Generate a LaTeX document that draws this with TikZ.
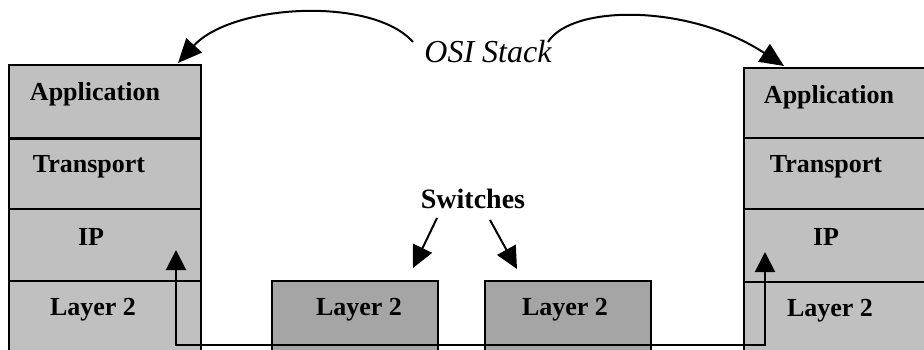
\documentclass[tikz,border=0pt]{standalone}
\usepackage{fontspec}
\setmainfont{Liberation Serif}
\usetikzlibrary{arrows.meta}
\definecolor{stackgray}{RGB}{192,192,192}
\definecolor{switchgray}{RGB}{165,165,165}
\tikzset{
  stackrow/.style={draw=black, line width=1.6pt, fill=stackgray, minimum width=192pt, anchor=north west, inner sep=0pt},
  switchbox/.style={draw=black, line width=1.6pt, fill=switchgray, minimum width=166pt, minimum height=80pt, anchor=north west, inner sep=0pt},
  rowtext/.style={font=\fontsize{26}{28}\selectfont\bfseries, anchor=base, inner sep=0pt},
  conn/.style={line width=2pt, draw=black},
  bighead/.style={-{Triangle[length=24pt,width=21pt]}},
  midhead/.style={-{Triangle[length=22pt,width=21pt]}}
}
\begin{document}
\begin{tikzpicture}[x=1pt,y=-1pt]
\useasboundingbox (0,0) rectangle (924,349);
\clip (0,0) rectangle (924,349);
\fill[white] (0,0) rectangle (924,349);

% left stack
\node[stackrow, minimum height=73pt] (la) at (8,64) {};
\node[stackrow, minimum height=71pt] (lt) at (8,137) {};
\node[stackrow, minimum height=72pt] (li) at (8,208) {};
\node[stackrow, minimum height=76pt] (ll) at (8,280) {};
\draw[line width=3pt] (la.south west) -- (la.south east);
\node[rowtext] (lat) at (95,100) {Application};
\node[rowtext] (ltt) at (89,172) {Transport};
\node[rowtext] (lit) at (91,245) {IP};
\node[rowtext] (llt) at (93,315) {Layer 2};

% right stack
\node[stackrow, minimum height=70pt] (ra) at (743,67) {};
\node[stackrow, minimum height=71pt] (rt) at (743,137) {};
\node[stackrow, minimum height=73pt] (ri) at (743,208) {};
\node[stackrow, minimum height=75pt] (rl) at (743,281) {};
\node[rowtext] (rat) at (829,103) {Application};
\node[rowtext] (rtt) at (826,172) {Transport};
\node[rowtext] (rit) at (826,245) {IP};
\node[rowtext] (rlt) at (830,316) {Layer 2};

% switches
\node[switchbox] (s1) at (271,280) {};
\node[switchbox] (s2) at (484,280) {};
\node[rowtext] (s1t) at (359,315) {Layer 2};
\node[rowtext] (s2t) at (565,315) {Layer 2};

% labels
\node[font=\fontsize{32}{34}\selectfont\itshape, anchor=base, inner sep=0pt] (osi) at (488,62) {OSI Stack};
\node[font=\fontsize{28}{30}\selectfont\bfseries, anchor=base, inner sep=0pt] (sw) at (473,208) {Switches};

% OSI arrows
\coordinate (oL) at (413,42);
\coordinate (oR) at (548,42);
\coordinate (tipL) at (178,63);
\coordinate (tipR) at (784,66);
\draw[conn, bighead] (oL) .. controls (372,-4) and (232,4) .. (tipL);
\draw[conn, bighead] (oR) .. controls (572,4) and (690,4) .. (tipR);

% switch arrows
\coordinate (swa) at (437,218);
\coordinate (swb) at (490,220);
\coordinate (swat) at (413,268);
\coordinate (swbt) at (517,269);
\draw[conn, midhead] (swa) -- (swat);
\draw[conn, midhead] (swb) -- (swbt);

% path through network
\coordinate (pL) at (176,250);
\coordinate (pR) at (765,252);
\coordinate (bL) at (176,345);
\coordinate (bR) at (765,345);
\draw[conn, {Triangle[length=20pt,width=20pt]}-{Triangle[length=20pt,width=20pt]}] (pL) -- (bL) -- (bR) -- (pR);
\end{tikzpicture}
\end{document}
